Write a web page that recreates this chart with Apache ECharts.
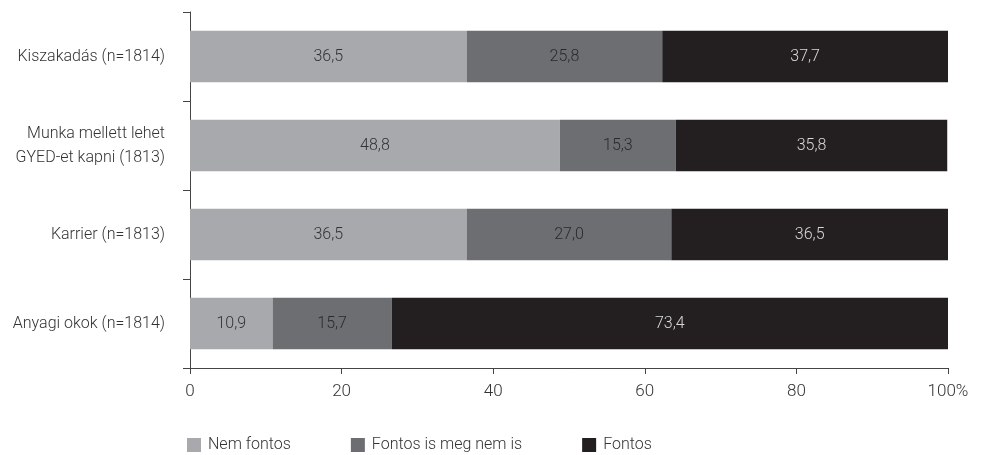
<!DOCTYPE html>
<html>
<head>
<meta charset="utf-8">
<script src="https://cdn.jsdelivr.net/npm/echarts@6/dist/echarts.min.js"></script>
<style>html,body{margin:0;padding:0;background:#fff}#c{width:981px;height:455px}</style>
</head>
<body>
<div id="c"></div>
<script>
var categories = ['Kiszakadás (n=1814)', 'Munka mellett lehet\nGYED-et kapni (1813)', 'Karrier (n=1813)', 'Anyagi okok (n=1814)'];
var seriesNames = ['Nem fontos', 'Fontos is meg nem is', 'Fontos'];
var nemFontos = [36.5, 48.8, 36.5, 10.9];
var kozepes = [25.8, 15.3, 27.0, 15.7];
var fontos = [37.7, 35.8, 36.5, 73.4];
var xTicks = [0, 20, 40, 60, 80, 100];

var FONT = "'Roboto', sans-serif";
var FW = 300;
var colors = ['#a7a9ac', '#6d6e72', '#231f20'];
var labelColors = ['#333', '#2a2a2a', '#d8d8d8'];
var datas = [nemFontos, kozepes, fontos];

function fmt(v) { return v.toFixed(1).replace('.', ','); }

var chart = echarts.init(document.getElementById('c'));
chart.setOption({
  animation: false,
  textStyle: { fontFamily: FONT, fontWeight: FW },
  grid: { left: 190, right: 33, top: 12, bottom: 87, containLabel: false },
  legend: {
    data: seriesNames,
    left: 182, top: 432,
    itemWidth: 14, itemHeight: 14, itemGap: 60,
    icon: 'rect',
    textStyle: { fontFamily: FONT, fontWeight: FW, fontSize: 16, color: '#333', padding: [0, 0, 0, 2] }
  },
  xAxis: {
    type: 'value', min: 0, max: 100, interval: 20,
    axisLine: { show: true, lineStyle: { color: '#444', width: 1 } },
    axisTick: { show: true, length: 6, lineStyle: { color: '#444' } },
    splitLine: { show: false },
    axisLabel: {
      fontFamily: FONT, fontWeight: FW, fontSize: 17, color: '#333', margin: 15,
      formatter: function (v) { return v === 100 ? '100%' : String(v); },
      customValues: xTicks
    }
  },
  yAxis: {
    type: 'category', data: categories, inverse: true,
    axisLine: { show: true, lineStyle: { color: '#444', width: 1 } },
    axisTick: { show: true, length: 7, lineStyle: { color: '#444' } },
    axisLabel: { fontFamily: FONT, fontWeight: FW, fontSize: 16, color: '#333', margin: 25, lineHeight: 24, align: 'right' }
  },
  series: seriesNames.map(function (name, i) {
    return {
      name: name, type: 'bar', stack: 'total',
      data: datas[i],
      barCategoryGap: '42%',
      itemStyle: { color: colors[i] },
      label: {
        show: true, position: 'inside',
        fontFamily: FONT, fontWeight: FW, fontSize: 16, color: labelColors[i],
        formatter: function (p) { return fmt(p.value); }
      }
    };
  })
});
</script>
</body>
</html>
